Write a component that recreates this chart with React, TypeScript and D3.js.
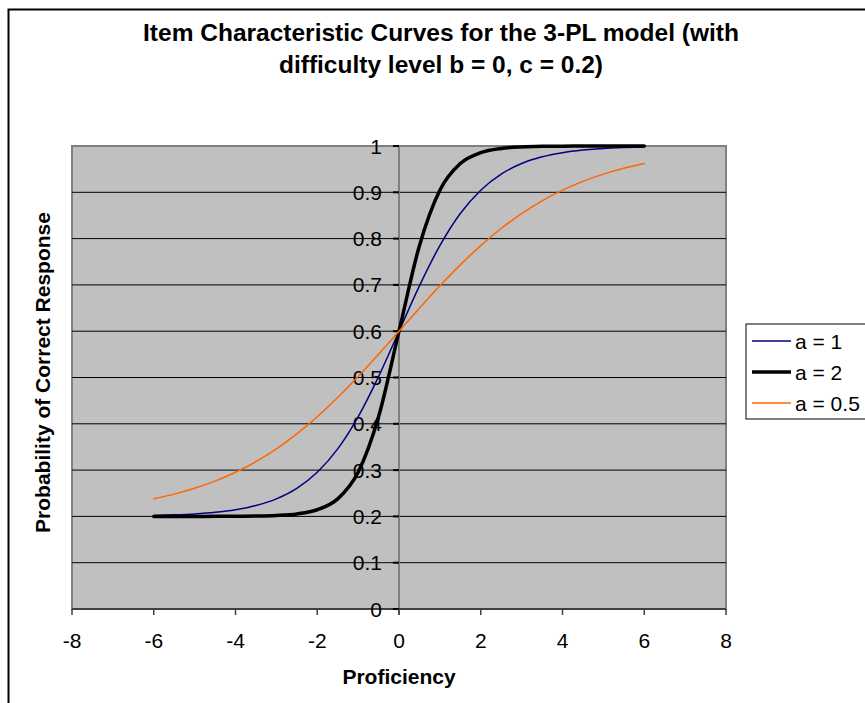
import React from "react";
import * as d3 from "d3";

const theta = [-6, -5.5, -5, -4.5, -4, -3.5, -3, -2.5, -2, -1.5, -1, -0.5, 0, 0.5, 1, 1.5, 2, 2.5, 3, 3.5, 4, 4.5, 5, 5.5, 6];
const seriesA1 = [0.202, 0.2033, 0.2054, 0.2088, 0.2144, 0.2235, 0.2379, 0.2607, 0.2954, 0.3459, 0.4152, 0.502, 0.6, 0.698, 0.7848, 0.8541, 0.9046, 0.9393, 0.9621, 0.9766, 0.9856, 0.9912, 0.9947, 0.9967, 0.998];
const seriesA2 = [0.2, 0.2, 0.2, 0.2001, 0.2003, 0.2007, 0.202, 0.2054, 0.2144, 0.2379, 0.2954, 0.4152, 0.6, 0.7848, 0.9046, 0.9621, 0.9856, 0.9947, 0.998, 0.9993, 0.9997, 0.9999, 1.0, 1.0, 1.0];
const seriesA05 = [0.2379, 0.2481, 0.2607, 0.2763, 0.2954, 0.3184, 0.3459, 0.3782, 0.4152, 0.4567, 0.502, 0.5503, 0.6, 0.6497, 0.698, 0.7433, 0.7848, 0.8218, 0.8541, 0.8816, 0.9046, 0.9237, 0.9393, 0.9519, 0.9621];
const seriesNames = ["a = 1", "a = 2", "a = 0.5"];
const xTicks = [-8, -6, -4, -2, 0, 2, 4, 6, 8];
const yTicks = [0, 0.1, 0.2, 0.3, 0.4, 0.5, 0.6, 0.7, 0.8, 0.9, 1];

const W = 865, H = 703;
const plot = { left: 72, right: 726, top: 146, bottom: 609 };
const font = "Arial, 'Liberation Sans', sans-serif";

export default function App() {
  const x = d3.scaleLinear().domain([-8, 8]).range([plot.left, plot.right]);
  const y = d3.scaleLinear().domain([0, 1]).range([plot.bottom, plot.top]);
  const line = d3
    .line<number>()
    .x((_, i) => x(theta[i]))
    .y((d) => y(d))
    .curve(d3.curveMonotoneX);

  const series = [
    { name: seriesNames[0], values: seriesA1, color: "#000080", width: 1.5 },
    { name: seriesNames[1], values: seriesA2, color: "#000000", width: 3.5 },
    { name: seriesNames[2], values: seriesA05, color: "#FF6600", width: 1.5 },
  ];
  const x0 = x(0);

  return (
    <svg width={W} height={H} style={{ position: "absolute", left: 0, top: 0, background: "#fff" }} fontFamily={font}>
      <rect x={8.5} y={9.5} width={W} height={H} fill="#fff" stroke="#000" strokeWidth={2} />
      <text x={441} y={41} textAnchor="middle" fontSize={24.5} fontWeight="bold">
        Item Characteristic Curves for the 3-PL model (with
      </text>
      <text x={441} y={73} textAnchor="middle" fontSize={24.5} fontWeight="bold">
        difficulty level b = 0, c = 0.2)
      </text>
      <rect x={plot.left} y={plot.top} width={plot.right - plot.left} height={plot.bottom - plot.top} fill="#C0C0C0" stroke="#808080" strokeWidth={2} />
      {yTicks.filter((t) => t > 0 && t < 1).map((t) => (
        <line key={t} x1={plot.left} x2={plot.right} y1={y(t)} y2={y(t)} stroke="#000" strokeWidth={1} />
      ))}
      <line x1={x0} x2={x0} y1={plot.top} y2={plot.bottom + 6} stroke="#808080" strokeWidth={2} />
      <line x1={plot.left} x2={plot.right} y1={plot.bottom} y2={plot.bottom} stroke="#404040" strokeWidth={2} />
      {yTicks.map((t) => (
        <g key={t}>
          <line x1={x0 - 6} x2={x0} y1={y(t)} y2={y(t)} stroke="#000" strokeWidth={2} />
          <text x={382} y={y(t) + 7.5} textAnchor="end" fontSize={21}>
            {d3.format("")(t)}
          </text>
        </g>
      ))}
      {xTicks.map((t) => (
        <g key={t}>
          <line x1={x(t)} x2={x(t)} y1={plot.bottom} y2={plot.bottom + 6} stroke="#404040" strokeWidth={1.5} />
          <text x={x(t)} y={648} textAnchor="middle" fontSize={21}>
            {t}
          </text>
        </g>
      ))}
      {series.map((s) => (
        <path key={s.name} d={line(s.values) || ""} fill="none" stroke={s.color} strokeWidth={s.width} strokeLinejoin="round" strokeLinecap="round" />
      ))}
      <text x={399} y={684} textAnchor="middle" fontSize={21} fontWeight="bold">
        Proficiency
      </text>
      <text transform={`translate(50, ${(plot.top + plot.bottom) / 2 - 5}) rotate(-90)`} textAnchor="middle" fontSize={21} fontWeight="bold">
        Probability of Correct Response
      </text>
      <rect x={746} y={324} width={130} height={95} fill="#fff" stroke="#000" strokeWidth={1} />
      {series.map((s, i) => (
        <g key={s.name}>
          <line x1={752} x2={791} y1={341 + i * 31} y2={341 + i * 31} stroke={s.color} strokeWidth={s.width} />
          <text x={795} y={341 + i * 31 + 7.5} fontSize={21}>
            {s.name}
          </text>
        </g>
      ))}
    </svg>
  );
}
